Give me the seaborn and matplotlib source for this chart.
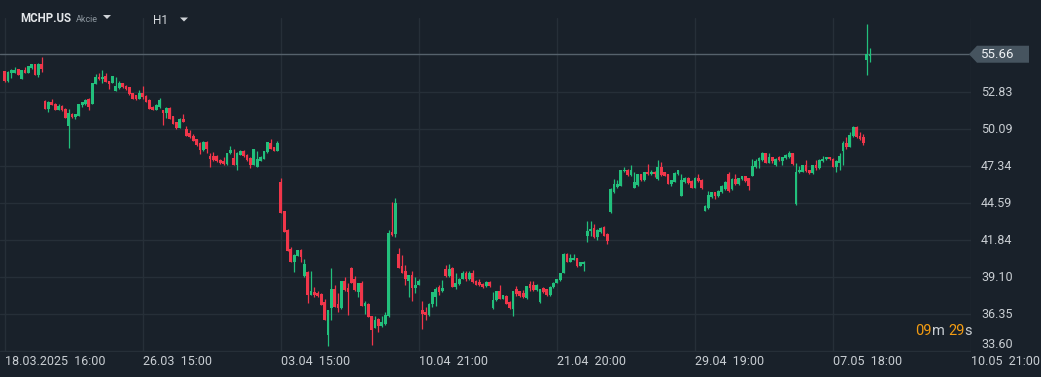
import matplotlib
matplotlib.use("Agg")
import numpy as np
import pandas as pd
import matplotlib.pyplot as plt
import matplotlib.patches as mpatches
import matplotlib.transforms as mtrans
import seaborn as sns

# hourly candles MCHP.US
opens = [54.40, 53.65, 54.25, 54.30, 54.55, 53.85, 54.50, 54.30, 54.65, 54.95,
         54.10, 54.95, 52.20, 51.60, 52.15, 52.00, 51.55, 51.80, 51.60, 50.35,
         51.25, 51.00, 51.10, 51.90, 51.95, 52.30, 51.95, 53.45, 54.00, 53.80,
         54.05, 53.65, 53.50, 52.95, 53.15, 53.50, 53.30, 53.20, 52.75, 52.60,
         52.30, 52.80, 52.55, 52.25, 51.75, 51.55, 51.75, 51.50, 51.30, 51.70,
         51.05, 50.60, 50.20, 50.85, 50.10, 49.80, 49.60, 49.35, 49.10, 48.55,
         49.15, 48.10, 48.10, 48.10, 47.80, 47.75, 47.50, 48.30, 47.95, 47.45,
         48.20, 48.50, 48.20, 47.95, 47.45, 47.30, 47.75, 47.90, 48.40, 49.05,
         48.75, 48.50, 46.20, 44.00, 42.60, 41.20, 40.20, 40.70, 41.15, 39.20,
         39.50, 37.80, 38.00, 37.95, 37.85, 37.25, 34.80, 36.85, 38.25, 37.10,
         36.80, 38.80, 38.30, 39.75, 38.95, 38.00, 38.65, 36.95, 37.15, 36.20,
         35.35, 36.00, 35.45, 35.60, 36.20, 42.45, 42.30, 40.80, 39.90, 39.55,
         38.85, 39.25, 38.30, 38.55, 36.70, 36.55, 36.30, 37.10, 37.65, 38.35,
         38.05, 39.70, 39.20, 39.80, 38.35, 38.60, 39.00, 39.40, 38.95, 39.45,
         38.80, 38.75, 38.60, 38.45, 38.75, 36.80, 37.40, 38.10, 37.50, 37.70,
         37.25, 36.75, 38.25, 38.05, 37.90, 37.55, 38.60, 38.50, 38.15, 37.25,
         38.30, 38.20, 37.75, 38.35, 38.70, 38.90, 39.45, 40.85, 40.25, 40.40,
         40.50, 39.95, 40.05, 42.15, 42.50, 42.75, 42.10, 42.45, 42.80, 42.30,
         43.95, 45.45, 45.80, 45.90, 47.00, 47.10, 46.70, 45.75, 45.95, 46.75,
         46.30, 46.95, 46.80, 46.95, 46.40, 47.25, 46.90, 46.75, 46.00, 46.20,
         46.75, 45.15, 46.15, 46.50, 46.25, 45.75, 46.50, 46.35, 44.05, 44.25,
         45.05, 45.40, 45.10, 45.40, 45.65, 46.75, 45.65, 46.40, 46.00, 46.40,
         46.60, 46.45, 46.65, 47.25, 47.70, 47.80, 48.30, 47.60, 48.00, 47.40,
         48.05, 47.75, 47.95, 48.00, 48.30, 44.55, 46.90, 46.95, 47.40, 47.05,
         46.85, 47.40, 47.20, 47.70, 47.85, 48.00, 47.90, 47.30, 47.60, 48.45,
         49.05, 48.80, 49.60, 50.25, 49.60, 49.50, 55.20, 55.55]
highs = [54.45, 54.40, 54.55, 54.70, 54.60, 54.50, 54.70, 54.75, 54.95, 54.95,
         55.00, 55.45, 52.25, 52.20, 52.35, 52.05, 52.00, 51.90, 51.65, 51.60,
         51.30, 51.25, 51.95, 52.10, 52.30, 52.40, 53.50, 54.20, 54.30, 54.50,
         54.25, 53.65, 54.05, 54.00, 53.65, 53.55, 53.35, 53.25, 52.80, 52.65,
         53.00, 53.30, 52.60, 52.30, 51.80, 51.95, 52.40, 51.55, 51.75, 51.75,
         51.10, 50.65, 50.90, 51.20, 50.30, 50.00, 49.75, 49.40, 49.15, 49.25,
         49.20, 48.30, 48.40, 48.15, 47.85, 48.00, 48.35, 48.85, 48.60, 48.40,
         48.55, 48.55, 48.25, 48.00, 48.60, 48.50, 48.10, 48.45, 49.15, 49.35,
         48.80, 49.20, 46.50, 44.05, 42.70, 41.35, 40.80, 41.15, 41.20, 40.45,
         39.55, 39.55, 38.35, 38.10, 37.90, 37.45, 36.70, 39.80, 38.50, 37.90,
         38.80, 39.15, 38.65, 39.85, 39.20, 38.65, 38.85, 37.35, 37.20, 36.25,
         36.20, 36.05, 36.20, 36.50, 42.60, 44.70, 45.00, 41.30, 40.75, 40.00,
         39.30, 39.60, 39.10, 38.95, 37.30, 36.90, 37.20, 38.00, 38.40, 38.55,
         38.90, 40.00, 40.10, 39.85, 39.40, 39.05, 39.60, 39.60, 39.60, 39.65,
         38.90, 39.00, 38.65, 38.80, 38.80, 38.00, 38.10, 38.55, 37.80, 37.75,
         37.30, 38.05, 38.45, 38.10, 38.15, 38.45, 38.80, 38.80, 38.60, 38.25,
         38.35, 38.25, 38.45, 38.75, 39.00, 39.45, 40.90, 40.90, 40.80, 40.80,
         40.55, 40.25, 40.30, 43.30, 43.30, 43.05, 42.65, 42.80, 42.90, 42.35,
         45.70, 46.40, 46.30, 47.05, 47.30, 47.15, 47.40, 46.95, 46.75, 46.80,
         46.95, 47.50, 47.05, 47.00, 47.80, 47.65, 46.95, 46.80, 46.35, 46.90,
         47.10, 46.75, 46.55, 46.55, 46.30, 46.55, 46.75, 46.40, 44.45, 45.50,
         45.45, 45.45, 45.55, 45.95, 46.25, 46.95, 46.45, 46.80, 46.50, 46.65,
         46.65, 46.50, 47.85, 47.90, 48.00, 48.40, 48.35, 48.30, 48.05, 47.95,
         48.10, 48.05, 48.25, 48.45, 48.35, 47.60, 47.35, 47.45, 47.80, 47.10,
         47.45, 47.80, 47.85, 48.10, 48.05, 48.05, 47.95, 47.80, 48.35, 49.25,
         49.55, 49.85, 50.30, 50.30, 49.85, 49.75, 57.90, 56.15]
lows = [53.60, 53.60, 53.90, 54.30, 54.10, 53.85, 54.30, 54.30, 54.60, 54.15,
        54.00, 54.35, 51.60, 51.40, 51.90, 51.50, 51.55, 51.45, 50.90, 48.70,
        50.95, 50.85, 51.05, 51.75, 51.90, 51.50, 51.95, 53.45, 53.75, 53.55,
        53.60, 53.10, 53.50, 52.95, 53.10, 53.15, 53.00, 52.65, 52.30, 52.25,
        52.30, 52.30, 52.10, 51.60, 51.50, 51.50, 51.70, 50.40, 50.95, 50.85,
        50.45, 50.10, 50.15, 50.60, 49.60, 49.45, 49.20, 48.85, 48.25, 48.50,
        48.30, 47.30, 47.75, 47.65, 47.50, 47.45, 47.45, 48.25, 47.40, 47.10,
        48.15, 48.05, 47.75, 47.20, 47.40, 47.25, 47.70, 47.85, 48.35, 48.60,
        48.45, 48.45, 43.90, 42.45, 41.05, 40.20, 39.50, 40.65, 40.20, 39.15,
        37.20, 37.75, 37.60, 37.65, 37.05, 35.90, 34.00, 35.90, 36.90, 36.50,
        36.75, 38.10, 36.30, 38.65, 38.10, 37.65, 36.95, 36.40, 36.15, 34.10,
        35.30, 35.00, 35.40, 35.55, 36.15, 42.20, 42.10, 39.75, 39.40, 38.50,
        37.65, 37.30, 37.90, 38.50, 35.25, 35.90, 36.20, 36.90, 36.95, 37.80,
        38.00, 39.15, 39.15, 38.35, 38.20, 38.55, 38.95, 38.85, 38.90, 38.70,
        38.50, 38.45, 38.30, 38.40, 38.40, 36.75, 37.35, 37.45, 37.45, 37.10,
        36.75, 36.20, 37.70, 37.65, 37.55, 37.50, 38.10, 38.10, 38.10, 37.20,
        37.95, 37.70, 37.70, 38.30, 38.65, 38.85, 39.40, 40.20, 40.20, 40.35,
        39.85, 39.90, 39.60, 41.75, 42.20, 42.05, 41.85, 42.40, 42.15, 41.60,
        43.90, 45.35, 45.75, 45.85, 46.95, 46.65, 46.65, 45.70, 45.90, 46.25,
        46.25, 46.70, 46.70, 46.55, 46.35, 46.65, 46.60, 46.00, 45.90, 46.15,
        46.70, 45.10, 46.10, 46.05, 45.70, 45.70, 46.20, 45.65, 44.00, 44.20,
        45.00, 44.90, 45.05, 45.35, 45.60, 45.45, 45.60, 45.95, 45.95, 46.35,
        46.20, 45.60, 46.60, 47.20, 47.20, 47.75, 47.55, 47.55, 47.60, 47.35,
        47.75, 47.40, 47.90, 47.95, 47.45, 44.50, 46.85, 46.90, 46.95, 46.75,
        46.80, 47.10, 47.15, 47.65, 47.80, 47.80, 47.25, 46.95, 47.10, 47.40,
        48.65, 48.75, 49.55, 49.45, 49.30, 48.95, 54.10, 55.05]
closes = [53.65, 54.35, 54.50, 54.50, 54.15, 54.50, 54.30, 54.75, 54.95, 54.15,
          54.95, 54.55, 51.60, 52.15, 51.90, 51.55, 51.85, 51.50, 50.90, 51.30,
          51.00, 51.20, 51.95, 52.10, 52.25, 51.75, 53.50, 54.00, 53.80, 53.95,
          53.60, 53.45, 54.05, 53.30, 53.50, 53.20, 53.05, 52.70, 52.35, 52.30,
          52.80, 52.45, 52.15, 51.60, 51.55, 51.90, 52.25, 51.30, 51.70, 50.85,
          50.45, 50.20, 50.85, 50.65, 49.60, 49.50, 49.25, 48.90, 48.55, 49.15,
          48.60, 47.90, 47.80, 47.70, 47.55, 47.50, 48.35, 48.55, 47.45, 48.35,
          48.50, 48.10, 47.80, 47.45, 48.60, 47.90, 48.05, 48.45, 49.15, 48.65,
          48.50, 49.10, 43.90, 42.45, 41.05, 40.20, 40.75, 41.15, 40.60, 40.05,
          37.80, 38.05, 37.80, 37.70, 37.05, 35.90, 36.70, 38.20, 36.90, 36.80,
          38.80, 38.15, 38.00, 38.70, 38.15, 38.65, 36.95, 37.20, 36.15, 35.20,
          35.95, 35.45, 35.75, 36.30, 42.40, 42.25, 44.60, 39.80, 39.45, 38.95,
          39.25, 38.30, 38.55, 38.85, 36.40, 36.30, 37.15, 38.00, 38.20, 38.00,
          38.30, 39.20, 39.70, 38.35, 38.70, 39.00, 39.40, 38.95, 39.45, 38.75,
          38.55, 38.50, 38.35, 38.75, 38.45, 37.40, 38.10, 37.50, 37.75, 37.15,
          36.80, 38.05, 37.85, 37.70, 37.60, 38.45, 38.30, 38.15, 38.55, 38.20,
          38.00, 37.75, 38.40, 38.70, 38.95, 39.40, 40.85, 40.25, 40.50, 40.50,
          39.90, 40.20, 40.25, 42.50, 42.70, 42.10, 42.60, 42.75, 42.20, 41.80,
          45.65, 46.00, 46.00, 47.05, 47.10, 46.70, 47.10, 46.20, 46.75, 46.30,
          46.95, 46.80, 46.95, 46.80, 47.30, 46.70, 46.65, 46.05, 46.30, 46.85,
          47.05, 46.30, 46.50, 46.10, 45.75, 46.50, 46.25, 45.70, 44.40, 45.20,
          45.40, 45.10, 45.50, 45.90, 46.20, 45.50, 46.40, 46.00, 46.45, 46.60,
          46.25, 45.90, 47.35, 47.75, 47.95, 48.30, 47.60, 48.00, 47.70, 47.90,
          47.80, 48.00, 48.20, 48.30, 47.50, 46.95, 47.10, 47.40, 47.00, 46.85,
          47.40, 47.20, 47.80, 47.90, 48.00, 47.85, 47.30, 47.75, 48.10, 49.05,
          48.75, 49.65, 50.25, 49.50, 49.40, 49.10, 55.70, 55.66]

tick_pos = [0, 41, 82, 123, 164, 205, 246, 287]
tick_labels = ["18.03.2025  16:00", "26.03  15:00", "03.04  15:00", "10.04  21:00",
               "21.04  20:00", "29.04  19:00", "07.05  18:00", "10.05  21:00"]
price_ticks = [33.60, 36.35, 39.10, 41.84, 44.59, 47.34, 50.09, 52.83]
last_price = 55.66

BG = "#19212a"
GRID = "#262f38"
TXT = "#c9ced3"
GREEN = "#22c07c"
RED = "#f0364a"

sns.set_style("dark", {"axes.facecolor": BG, "figure.facecolor": BG})
plt.rcParams["font.family"] = ["Roboto", "DejaVu Sans"]

df = pd.DataFrame({"open": opens, "high": highs, "low": lows, "close": closes})
df["idx"] = np.arange(len(df))
df["up"] = df["close"] >= df["open"]
df["bottom"] = df[["open", "close"]].min(axis=1)
df["height"] = (df["close"] - df["open"]).abs().clip(lower=0.07)
colors = np.where(df["up"], GREEN, RED)

W, H = 1041, 377
fig = plt.figure(figsize=(W / 100, H / 100), dpi=100, facecolor=BG)
ax = fig.add_axes([0, 25 / H, 971 / W, 334 / H])
ax.set_facecolor(BG)

ax.vlines(df["idx"], df["low"], df["high"], colors=colors, linewidth=0.9, zorder=3)
ax.bar(df["idx"], df["height"], bottom=df["bottom"], width=0.82, color=colors,
       linewidth=0, zorder=4)

ax.set_xlim(-1.39, 287.0)
ax.set_ylim(33.55, 58.35)
ax.set_xticks(tick_pos)
ax.set_xticklabels(tick_labels, ha="left", fontsize=9, color=TXT)
ax.set_yticks(price_ticks)
ax.set_yticklabels([])
ax.tick_params(axis="both", length=0)
ax.tick_params(axis="x", pad=2)
ax.grid(True, color=GRID, linewidth=1)
for s in ax.spines.values():
    s.set_visible(False)

# right price scale
blend = mtrans.blended_transform_factory(ax.transAxes, ax.transData)
for i, p in enumerate(price_ticks):
    ax.text(981 / 971, p, f"{p:.2f}", transform=blend, ha="left",
            va="bottom" if i == 0 else "center", fontsize=9, color=TXT,
            clip_on=False)

# current price line and tag
ax.axhline(last_price, color="#56626c", linewidth=1, zorder=2)
fig.canvas.draw()
_, yp = ax.transData.transform((0, last_price))
tag = [(969, yp), (977, yp + 8.5), (1029, yp + 8.5), (1029, yp - 8.5), (977, yp - 8.5)]
fig.patches.append(mpatches.Polygon(tag, closed=True, facecolor="#46545f",
                                    edgecolor="none", transform=None))
fig.text(981 / W, yp / H, f"{last_price:.2f}", ha="left", va="center",
         fontsize=9.5, color="#eef1f4")

# header
def px(x, y):
    return (x / W, 1 - y / H)

fig.text(*px(20, 19), "MCHP.US", fontsize=8.3, fontweight="bold", color="#e4e7ea",
         va="center", ha="left")
fig.text(*px(76, 19.5), "Akcie", fontsize=6.5, color="#8d979f", va="center", ha="left")
fig.text(*px(153, 20), "H1", fontsize=8.5, color="#d6dade", va="center", ha="left")
for x0, y0 in [(103, 15), (180, 17.5)]:
    tri = [px(x0, y0), px(x0 + 8, y0), px(x0 + 4, y0 + 4)]
    fig.patches.append(mpatches.Polygon(tri, closed=True, facecolor="#cfd3d7",
                                        edgecolor="none", transform=fig.transFigure))

# countdown
x = 915
for part, col in [("09", "#f39c12"), ("m ", TXT), ("29", "#f39c12"), ("s", TXT)]:
    t = fig.text(*px(x, 331), part, fontsize=10.5, color=col, va="center", ha="left")
    fig.canvas.draw()
    x += t.get_window_extent().width

fig.savefig("out.png", dpi=100, facecolor=BG)
